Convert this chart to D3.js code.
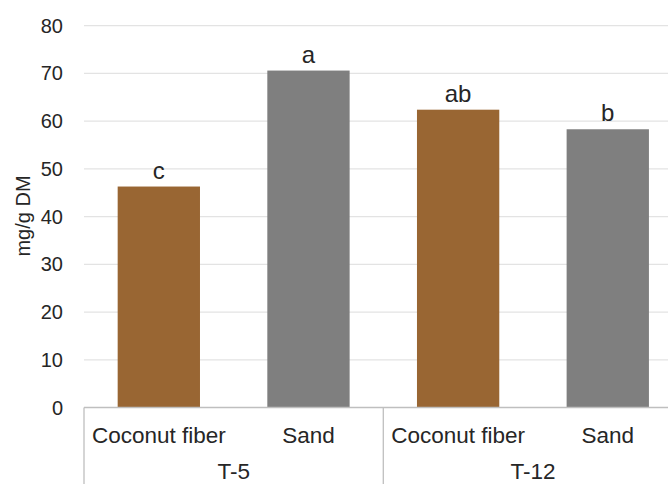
<!DOCTYPE html>
<html>
<head>
<meta charset="utf-8">
<script src="https://cdn.jsdelivr.net/npm/d3@7"></script>
<style>
  body { margin: 0; background: #fff; }
  text { font-family: "Liberation Sans", Arial, sans-serif; fill: #262626; }
</style>
</head>
<body>
<svg id="chart" width="668" height="484"></svg>
<script>
// values
var groups = ["T-5", "T-12"];
var substrates = ["Coconut fiber", "Sand"];
var values = [46.3, 70.6, 62.4, 58.3];
var letters = ["c", "a", "ab", "b"];
var colors = { "Coconut fiber": "#996633", "Sand": "#7f7f7f" };

var svg = d3.select("#chart"),
  width = +svg.attr("width"),
  height = +svg.attr("height");

var plotLeft = 84, plotBottom = 407.5, plotTop = 25.7;

// one row per bar
var data = [];
groups.forEach(function(g, gi) {
  substrates.forEach(function(s, si) {
    var i = gi * substrates.length + si;
    data.push({ key: g + "|" + s, group: g, sub: s, value: values[i], letter: letters[i] });
  });
});

var x = d3.scaleBand()
  .domain(data.map(function(d) { return d.key; }))
  .range([plotLeft, plotLeft + 4 * 149.65])
  .paddingInner(0.45)
  .paddingOuter(0.225);

var y = d3.scaleLinear().domain([0, 80]).range([plotBottom, plotTop]);

// gridlines
svg.append("g").selectAll("line")
  .data(y.ticks(8).filter(function(t) { return t > 0; }))
  .enter().append("line")
  .attr("x1", plotLeft).attr("x2", width)
  .attr("y1", function(d) { return y(d); })
  .attr("y2", function(d) { return y(d); })
  .attr("stroke", "#e3e3e3")
  .attr("stroke-width", 1.2);

// y tick labels
svg.append("g").selectAll("text")
  .data(y.ticks(8))
  .enter().append("text")
  .attr("x", 63)
  .attr("y", function(d) { return y(d); })
  .attr("dy", "0.35em")
  .attr("text-anchor", "end")
  .style("font-size", "20px")
  .text(function(d) { return d; });

// y title
svg.append("text")
  .attr("transform", "translate(30,216) rotate(-90)")
  .attr("text-anchor", "middle")
  .style("font-size", "20px")
  .text("mg/g DM");

// bars
svg.append("g").selectAll("rect")
  .data(data)
  .enter().append("rect")
  .attr("x", function(d) { return x(d.key); })
  .attr("width", x.bandwidth())
  .attr("y", function(d) { return y(d.value); })
  .attr("height", function(d) { return plotBottom - y(d.value); })
  .attr("fill", function(d) { return colors[d.sub]; });

// significance letters
svg.append("g").selectAll("text")
  .data(data)
  .enter().append("text")
  .attr("x", function(d) { return x(d.key) + x.bandwidth() / 2; })
  .attr("y", function(d) { return y(d.value) - 8; })
  .attr("text-anchor", "middle")
  .style("font-size", "24px")
  .text(function(d) { return d.letter; });

// category axis: baseline and group dividers
svg.append("line")
  .attr("x1", plotLeft).attr("x2", width)
  .attr("y1", plotBottom).attr("y2", plotBottom)
  .attr("stroke", "#bfbfbf").attr("stroke-width", 1.3);

var step = x.step();
var groupEdges = d3.range(groups.length + 1).map(function(i) {
  return plotLeft + i * substrates.length * step;
});
svg.append("g").selectAll("line")
  .data(groupEdges)
  .enter().append("line")
  .attr("x1", function(d) { return d; }).attr("x2", function(d) { return d; })
  .attr("y1", plotBottom).attr("y2", height)
  .attr("stroke", "#bfbfbf").attr("stroke-width", 1.3);

svg.append("g").selectAll("text")
  .data(data)
  .enter().append("text")
  .attr("x", function(d) { return x(d.key) + x.bandwidth() / 2; })
  .attr("y", 443)
  .attr("text-anchor", "middle")
  .style("font-size", "22.5px")
  .text(function(d) { return d.sub; });

svg.append("g").selectAll("text")
  .data(groups)
  .enter().append("text")
  .attr("x", function(d, i) { return (groupEdges[i] + groupEdges[i + 1]) / 2; })
  .attr("y", 479)
  .attr("text-anchor", "middle")
  .style("font-size", "22.5px")
  .text(function(d) { return d; });
</script>
</body>
</html>
